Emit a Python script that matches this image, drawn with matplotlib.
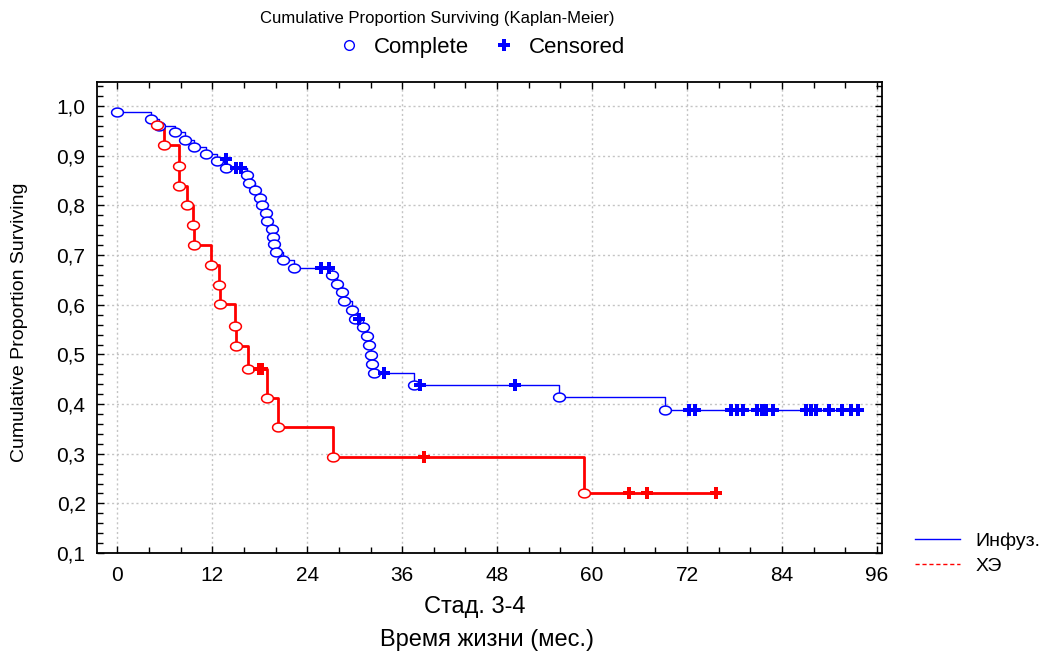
import numpy as np
import matplotlib
matplotlib.use("Agg")
import matplotlib.pyplot as plt
from matplotlib.path import Path
from matplotlib.lines import Line2D
from matplotlib.ticker import MultipleLocator, FuncFormatter

plt.rcParams['font.family'] = ['Liberation Sans', 'DejaVu Sans']

# Инфуз. - complete events (time, survival)
inf_t = [0, 4.3, 5.3, 7.3, 8.5, 9.75, 11.2, 12.6, 13.7, 16.4, 16.7, 17.4, 18.0,
         18.3, 18.8, 18.9, 19.5, 19.7, 19.8, 20.1, 21.0, 22.3, 27.1, 27.8, 28.4,
         28.6, 29.6, 30.0, 31.0, 31.6, 31.8, 32.0, 32.2, 32.5, 37.5, 55.8, 69.2]
inf_s = [0.988, 0.974, 0.960, 0.947, 0.932, 0.917, 0.903, 0.890, 0.876, 0.862,
         0.846, 0.831, 0.815, 0.800, 0.784, 0.768, 0.753, 0.737, 0.722, 0.706,
         0.691, 0.675, 0.659, 0.642, 0.625, 0.607, 0.590, 0.572, 0.555, 0.537,
         0.518, 0.499, 0.481, 0.462, 0.439, 0.414, 0.388]
# Инфуз. - censored
inf_ct = [13.8, 15.0, 15.6, 25.7, 26.7, 30.6, 33.7, 38.3, 50.3, 72.2, 73.0,
          77.6, 78.3, 79.1, 80.8, 81.5, 82.0, 82.9, 87.0, 87.6, 88.3, 89.9,
          91.6, 92.7, 93.6]
inf_cs = [0.893, 0.876, 0.876, 0.675, 0.675, 0.572, 0.462, 0.439, 0.439] + [0.388] * 16

# ХЭ - complete events
che_t = [5.0, 5.9, 7.8, 7.8, 8.8, 9.6, 9.75, 11.8, 12.8, 13.0, 14.85, 15.0,
         16.5, 18.9, 20.3, 27.3, 59.0]
che_s = [0.962, 0.922, 0.880, 0.840, 0.800, 0.760, 0.721, 0.680, 0.640, 0.601,
         0.557, 0.517, 0.471, 0.412, 0.353, 0.294, 0.220]
# ХЭ - censored
che_ct = [17.9, 18.3, 38.7, 64.6, 66.9, 75.7]
che_cs = [0.471, 0.471, 0.294, 0.220, 0.220, 0.220]

# slightly flattened circle marker
th = np.linspace(0, 2 * np.pi, 60)
ell = Path(np.column_stack([np.cos(th), 0.75 * np.sin(th)]), closed=True)

fig = plt.figure(figsize=(10.51, 6.53), dpi=100)
ax = fig.add_axes([0.092, 0.153, 0.747, 0.721])

groups = [(inf_t, inf_s, inf_ct, inf_cs, 'blue', 1.0),
          (che_t, che_s, che_ct, che_cs, 'red', 2.0)]
for t, s, ct, cs, col, lw in groups:
    xs = list(t) + [max(max(ct), max(t))]
    ys = list(s) + [s[-1]]
    ax.plot(xs, ys, drawstyle='steps-post', color=col, lw=lw, zorder=3)
    ax.plot(t, s, ls='none', marker=ell, ms=8.5, mfc='white', mec=col, mew=1.1, zorder=4)
    ax.plot(ct, cs, ls='none', marker='P', ms=8, color=col, mew=0, zorder=5)

ax.set_xlim(-2.6, 96.6)
ax.set_ylim(0.1, 1.048)
ax.xaxis.set_major_locator(MultipleLocator(12))
ax.xaxis.set_minor_locator(MultipleLocator(4))
ax.yaxis.set_major_locator(MultipleLocator(0.1))
ax.yaxis.set_minor_locator(MultipleLocator(0.02))
ax.yaxis.set_major_formatter(FuncFormatter(lambda v, p: ('%.1f' % v).replace('.', ',')))
ax.grid(True, which='major', ls=(0, (1.5, 2)), color='#c4c4c4', lw=1)
ax.tick_params(which='both', direction='in', top=True, right=True, width=1)
ax.tick_params(which='major', length=5)
ax.tick_params(which='minor', length=4)
ax.tick_params(axis='y', labelsize=15, pad=8)
ax.tick_params(axis='x', labelsize=15, pad=9)
for sp in ax.spines.values():
    sp.set_linewidth(1.3)

fig.text(0.416, 0.972, 'Cumulative Proportion Surviving (Kaplan-Meier)',
         ha='center', va='center', fontsize=12)
top_h = [Line2D([], [], ls='none', marker='o', ms=7, mfc='white', mec='blue', mew=1),
         Line2D([], [], ls='none', marker='P', ms=8, color='blue', mew=0)]
fig.legend(top_h, ['Complete', 'Censored'], loc='center', bbox_to_anchor=(0.458, 0.928),
           ncol=2, frameon=False, fontsize=16, handlelength=1.0, handletextpad=0.6,
           columnspacing=1.1)

fig.text(0.019, 0.507, 'Cumulative Proportion Surviving', rotation=90,
         ha='center', va='center', fontsize=14)
fig.text(0.452, 0.07, 'Стад. 3-4', ha='center', va='center', fontsize=17)
fig.text(0.463, 0.02, 'Время жизни (мес.)', ha='center', va='center', fontsize=17)

bot_h = [Line2D([], [], color='blue', lw=1),
         Line2D([], [], color='red', lw=1, ls=(0, (3, 2)))]
fig.legend(bot_h, ['Инфуз.', 'ХЭ'], loc='center left', bbox_to_anchor=(0.854, 0.152),
           frameon=False, fontsize=14, handlelength=2.3, handletextpad=0.8, labelspacing=0.4)

fig.savefig('out.png', dpi=100)
